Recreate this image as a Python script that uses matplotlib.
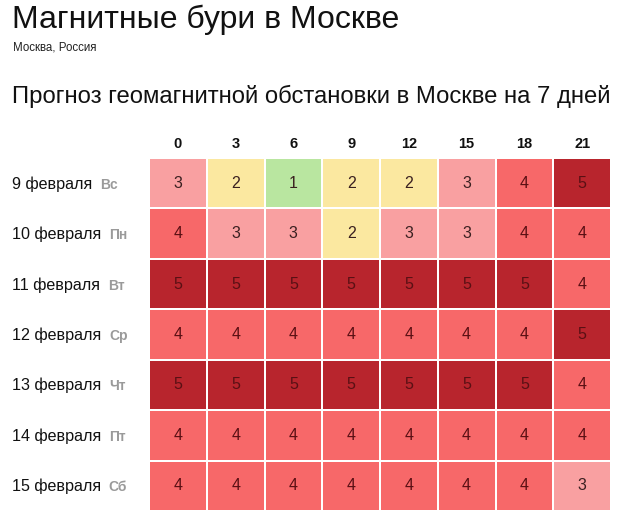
import matplotlib
matplotlib.use("Agg")
import matplotlib.pyplot as plt
from matplotlib.colors import ListedColormap, BoundaryNorm
import numpy as np

plt.rcParams['font.family'] = ['Liberation Sans', 'DejaVu Sans']

hours = ["0", "3", "6", "9", "12", "15", "18", "21"]
dates = ["9 февраля", "10 февраля", "11 февраля", "12 февраля",
         "13 февраля", "14 февраля", "15 февраля"]
weekdays = ["Вс", "Пн", "Вт", "Ср", "Чт", "Пт", "Сб"]
kp_values = [
    [3, 2, 1, 2, 2, 3, 4, 5],
    [4, 3, 3, 2, 3, 3, 4, 4],
    [5, 5, 5, 5, 5, 5, 5, 4],
    [4, 4, 4, 4, 4, 4, 4, 5],
    [5, 5, 5, 5, 5, 5, 5, 4],
    [4, 4, 4, 4, 4, 4, 4, 4],
    [4, 4, 4, 4, 4, 4, 4, 3],
]
level_colors = ["#b9e6a0", "#fbe8a0", "#f9a0a1", "#f76869", "#b8252d"]

W, H = 623, 522
fig = plt.figure(figsize=(W / 100, H / 100), dpi=100)

fig.text(12 / W, 1 - 28 / H, "Магнитные бури в Москве", fontsize=23,
         va="baseline", ha="left", color="#111111")
fig.text(13 / W, 1 - 51 / H, "Москва, Россия", fontsize=8.3,
         va="baseline", ha="left", color="#222222")
fig.text(12 / W, 1 - 103 / H, "Прогноз геомагнитной обстановки в Москве на 7 дней",
         fontsize=17.2, va="baseline", ha="left", color="#111111")

left, right, top, bottom = 149, 611, 158, 511
ax = fig.add_axes([left / W, 1 - bottom / H, (right - left) / W, (bottom - top) / H])
data = np.array(kp_values)
cmap = ListedColormap(level_colors)
norm = BoundaryNorm([0.5, 1.5, 2.5, 3.5, 4.5, 5.5], cmap.N)
ax.pcolormesh(np.arange(len(hours) + 1), np.arange(len(dates) + 1), data,
              cmap=cmap, norm=norm, edgecolors="white", linewidth=1.2)
ax.set_xlim(0, len(hours))
ax.set_ylim(len(dates), 0)
for s in ax.spines.values():
    s.set_visible(False)
ax.set_xticks([])
ax.set_yticks([])

for i in range(len(dates)):
    for j in range(len(hours)):
        v = data[i, j]
        col = "#5a1014" if v >= 4 else "#3a2020"
        ax.text(j + 0.5, i + 0.5, str(v), ha="center", va="center",
                fontsize=11.5, color=col)

for j, h in enumerate(hours):
    ax.text(j + 0.5, -0.28, h, ha="center", va="center", fontsize=10.5,
            fontweight="bold", color="#111111")

for i, (d, wd) in enumerate(zip(dates, weekdays)):
    yc = top + (i + 0.5) * (bottom - top) / len(dates)
    y = 1 - (yc + 5.5) / H
    t = fig.text(12 / W, y, d, fontsize=11.6, va="baseline", ha="left", color="#111111")
    ax.annotate(wd, xy=(1, 0), xycoords=t, xytext=(5.5, 0),
                textcoords="offset points", va="bottom", ha="left",
                fontsize=10, fontweight="bold", color="#9a9a9a")

fig.savefig("out.png", dpi=100)
